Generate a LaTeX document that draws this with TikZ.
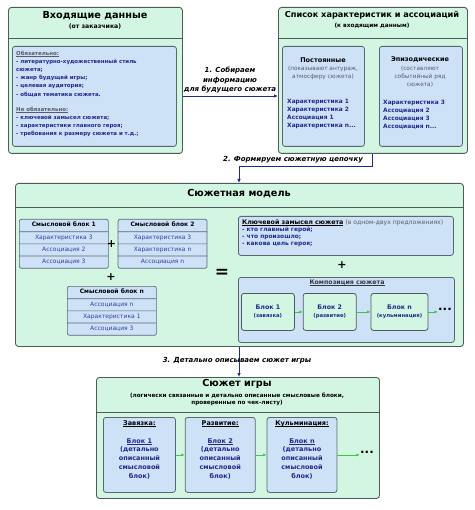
\documentclass[tikz,border=0pt]{standalone}
\usepackage{fontspec}
\setmainfont{DejaVu Sans}
\usetikzlibrary{arrows.meta,positioning,shapes.multipart}
\definecolor{mint}{HTML}{D3F6E2}
\definecolor{paleblue}{HTML}{CDE1F7}
\definecolor{boxline}{HTML}{4F5B5B}
\definecolor{cellline}{HTML}{5A6670}
\definecolor{navy}{HTML}{1E2A8E}
\definecolor{rowblue}{HTML}{3040A8}
\definecolor{flowgreen}{HTML}{3CC83C}
\definecolor{notegray}{HTML}{5A5A6A}
\newcommand{\ulin}[1]{\leavevmode\setbox0\hbox{#1}\rlap{\vrule height -0.12em depth 0.2em width \wd0}\box0}

\begin{document}
\begin{tikzpicture}[x=1pt,y=-1pt,inner sep=0pt,
    frame/.style={draw=boxline,line width=0.9pt,fill=mint,rounded corners=3pt,anchor=north west},
    pane/.style={draw=cellline,line width=0.8pt,fill=paleblue,rounded corners=2.5pt,anchor=north west},
    heading/.style={font=\bfseries\fontsize{9.7}{11}\selectfont},
    subheading/.style={font=\bfseries\fontsize{6.2}{7.5}\selectfont,align=center},
    flowlabel/.style={font=\bfseries\itshape\fontsize{7}{9.5}\selectfont,align=center},
    flow/.style={-{Latex[length=4pt,width=3.5pt]},draw=navy,line width=0.8pt},
    gflow/.style={-{Latex[length=3.5pt,width=3pt]},draw=flowgreen,line width=0.8pt},
    sense/.style={rectangle split,rectangle split parts=4,draw=cellline,line width=0.7pt,
      fill=paleblue,rounded corners=2pt,anchor=north west,minimum width=89pt,
      inner ysep=2.45pt,text=rowblue,font=\fontsize{6}{6.6}\selectfont},
    cblock/.style={draw=boxline,line width=0.8pt,fill=mint,rounded corners=2.5pt,
      minimum height=37pt,align=center,text=navy,font=\bfseries\fontsize{6.3}{8}\selectfont},
    gtext/.style={align=center,text=navy,anchor=north,font=\bfseries\fontsize{6.5}{8.8}\selectfont},
    joiner/.style={font=\bfseries\fontsize{11}{12}\selectfont},
    dots/.style={font=\bfseries\fontsize{12}{12}\selectfont},
  ]
  \useasboundingbox (0,0) rectangle (474,510);

  % input data
  \node[frame,minimum width=174pt,minimum height=146pt] (inp) at (8,7) {};
  \draw[boxline,line width=0.9pt] (inp.west |- 0,38) -- (inp.east |- 0,38);
  \node[heading] (inptitle) at (95,16) {Входящие данные};
  \node[subheading] (inpsub) at (95,27) {(от заказчика)};
  \node[pane,minimum width=164pt,minimum height=100pt] (must) at (12,46) {};
  \node[anchor=north west,align=left,text=navy,font=\bfseries\fontsize{5.45}{8.2}\selectfont] (musttext) at (16,50.5)
    {{\color{notegray}\ulin{Обязательно:}}\\
     - литературно-художественный стиль\\
     сюжета;\\
     - жанр будущей игры;\\
     - целевая аудитория;\\
     - общая тематика сюжета.\\[6.8pt]
     {\color{notegray}\ulin{Не обязательно:}}\\
     - ключевой замысел сюжета;\\
     - характеристики главного героя;\\
     - требования к размеру сюжета и т.д.;};

  % characteristics and associations
  \node[frame,minimum width=189pt,minimum height=146pt] (chars) at (278,7) {};
  \draw[boxline,line width=0.9pt] (chars.west |- 0,38) -- (chars.east |- 0,38);
  \node[font=\bfseries\fontsize{8.2}{9}\selectfont] (charstitle) at (372,15) {Список характеристик и ассоциаций};
  \node[subheading,font=\bfseries\fontsize{5.8}{7}\selectfont] (charssub) at (372,26) {(к входящим данным)};
  \node[pane,minimum width=82pt,minimum height=100pt] (const) at (282,46) {};
  \node[pane,minimum width=83pt,minimum height=100pt] (epis) at (379,46) {};
  \node[font=\bfseries\fontsize{6.5}{8}\selectfont] (consttitle) at (323,60) {Постоянные};
  \node[align=center,text=notegray,font=\fontsize{5.8}{8}\selectfont] (constnote) at (323,73) {(показывают антураж,\\атмосферу сюжета)};
  \node[anchor=north west,align=left,text=navy,font=\bfseries\fontsize{5.9}{8}\selectfont] (constlist) at (287,99.5)
    {Характеристика 1\\Характеристика 2\\Ассоциация 1\\Характеристика n...};
  \node[font=\bfseries\fontsize{6.5}{8}\selectfont] (epistitle) at (420,60) {Эпизодические};
  \node[align=center,text=notegray,font=\fontsize{5.8}{8}\selectfont] (episnote) at (420,77) {(составляют\\событийный ряд\\сюжета)};
  \node[anchor=north west,align=left,text=navy,font=\bfseries\fontsize{5.9}{8}\selectfont] (epislist) at (383,99.5)
    {Характеристика 3\\Ассоциация 2\\Ассоциация 3\\Ассоциация n...};

  \draw[flow] (inp.east |- 0,96) -- (chars.west |- 0,96);
  \node[flowlabel] (lbl1) at (230,80) {1. Собираем\\информацию\\для будущего сюжета};

  % plot model
  \node[frame,minimum width=448pt,minimum height=163pt] (model) at (15,183) {};
  \draw[boxline,line width=0.9pt] (model.west |- 0,207) -- (model.east |- 0,207);
  \node[heading] (modeltitle) at (239,194) {Сюжетная модель};

  \coordinate (bend2) at (239,166);
  \draw[flow] (chars.south -| 372,0) |- (bend2) -- (bend2 |- model.north);
  \node[flowlabel] (lbl2) at (293,160) {2. Формируем сюжетную цепочку};

  \node[sense] (b1) at (19,219)
    {\textcolor{black}{\bfseries Смысловой блок 1}\strut
     \nodepart{two}Характеристика 3\strut
     \nodepart{three}Ассоциация 2\strut
     \nodepart{four}Ассоциация 3\strut};
  \node[sense,right=9pt of b1.north east,anchor=north west] (b2)
    {\textcolor{black}{\bfseries Смысловой блок 2}\strut
     \nodepart{two}Характеристика 3\strut
     \nodepart{three}Характеристика n\strut
     \nodepart{four}Ассоциация n\strut};
  \node[sense] (bn) at (67,286)
    {\textcolor{black}{\bfseries Смысловой блок n}\strut
     \nodepart{two}Ассоциация n\strut
     \nodepart{three}Характеристика 1\strut
     \nodepart{four}Ассоциация 3\strut};
  \node[joiner] (plus1) at (111.5,244) {+};
  \node[joiner] (plus2) at (111,277) {+};
  \node[font=\bfseries\fontsize{17}{17}\selectfont] (eq) at (222,273) {=};

  \node[pane,minimum width=215pt,minimum height=39pt] (idea) at (238,216) {};
  \node[anchor=north west,align=left,text=navy,font=\bfseries\fontsize{5.9}{7}\selectfont] (ideatext) at (242,219.5)
    {{\color{black}\fontsize{6.3}{7}\selectfont\ulin{Ключевой замысел сюжета}}
     {\mdseries\color{notegray}\fontsize{6.1}{7}\selectfont(в одном-двух предложениях)}\\
     - кто главный герой;\\
     - что произошло;\\
     - какова цель героя;};
  \node[joiner] (plus3) at (342,265) {+};

  \node[pane,minimum width=216pt,minimum height=65pt] (comp) at (238,277) {};
  \node[text=notegray!60!black,font=\bfseries\fontsize{6.3}{7}\selectfont] (comptitle) at (347,283) {\ulin{Композиция сюжета}};
  \node[cblock,minimum width=53pt,anchor=north west] (cb1) at (241,293)
    {Блок 1\\{\fontsize{5.3}{8}\selectfont(завязка)}};
  \node[cblock,minimum width=53pt,right=8pt of cb1] (cb2)
    {Блок 2\\{\fontsize{5.3}{8}\selectfont(развитие)}};
  \node[cblock,minimum width=57pt,right=14pt of cb2] (cbn)
    {Блок n\\{\fontsize{5.3}{8}\selectfont(кульминация)}};
  \node[dots] (dots1) at (445,309) {...};
  \draw[gflow] (cb1) -- (cb2);
  \draw[gflow] (cb2) -- (cbn);
  \draw[gflow] (cbn.east) -- (dots1.west |- cbn.east);

  % game plot
  \node[frame,minimum width=283pt,minimum height=121pt] (game) at (96,377) {};
  \draw[boxline,line width=0.9pt] (game.west |- 0,412) -- (game.east |- 0,412);
  \node[heading] (gametitle) at (237,384) {Сюжет игры};
  \node[subheading,font=\bfseries\fontsize{5.7}{7.5}\selectfont] (gamesub) at (237,399.5)
    {(логически связанные и детально описанные смысловые блоки,\\проверенные по чек-листу)};

  \draw[flow] (model.south -| 239,0) -- (game.north -| 239,0);
  \node[flowlabel] (lbl3) at (237,361) {3. Детально описываем сюжет игры};

  \node[pane,minimum width=72pt,minimum height=75pt] (g1) at (103,417) {};
  \node[pane,minimum width=70pt,minimum height=75pt,right=9pt of g1.north east,anchor=north west] (g2) {};
  \node[pane,minimum width=70pt,minimum height=75pt,right=11pt of g2.north east,anchor=north west] (g3) {};
  \node[gtext] (g1t) at ([yshift=-3.5pt]g1.north)
    {{\color{black}\ulin{Завязка:}}\\[8.8pt]\ulin{Блок 1}\\(детально\\описанный\\смысловой\\блок)};
  \node[gtext] (g2t) at ([yshift=-3.5pt]g2.north)
    {{\color{black}\ulin{Развитие:}}\\[8.8pt]\ulin{Блок 2}\\(детально\\описанный\\смысловой\\блок)};
  \node[gtext] (g3t) at ([yshift=-3.5pt]g3.north)
    {{\color{black}\ulin{Кульминация:}}\\[8.8pt]\ulin{Блок n}\\(детально\\описанный\\смысловой\\блок)};
  \node[dots] (dots2) at (367,452) {...};
  \draw[gflow] (g1) -- (g2);
  \draw[gflow] (g2) -- (g3);
  \draw[gflow] (g3.east) -- (dots2.west |- g3.east);
\end{tikzpicture}
\end{document}
